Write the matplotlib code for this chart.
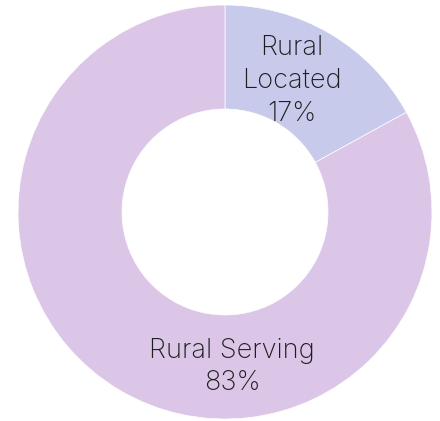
import matplotlib
matplotlib.use("Agg")
import matplotlib.pyplot as plt

labels = ["Rural\nLocated", "Rural Serving"]
shares = [17, 83]
colors = ["#c8caeb", "#dcc6e8"]

OUTER = 207  # px radius of the ring
HOLE = 103

fig = plt.figure(figsize=(4.4, 4.21), dpi=100)
ax = fig.add_axes([0, 0, 1, 1])

ax.pie(shares, colors=colors, radius=OUTER, startangle=90, counterclock=False,
       wedgeprops={"width": OUTER - HOLE, "edgecolor": "white", "linewidth": 0.5},
       frame=True)
ax.axis("off")
ax.set_aspect("equal")
ax.set_xlim(-225, 440 - 225)
ax.set_ylim(-(421 - 212), 212)

# label spots picked by eye from the reference
label_pos = [(67, 131), (7, -155)]
for lab, val, (x, y) in zip(labels, shares, label_pos):
    ax.text(x, y, f"{lab}\n{val}%", ha="center", va="center", fontsize=19.5,
            family="Inter", fontweight="light", color="#1e1e1e", linespacing=1.33)

fig.savefig("out.png", dpi=100)
